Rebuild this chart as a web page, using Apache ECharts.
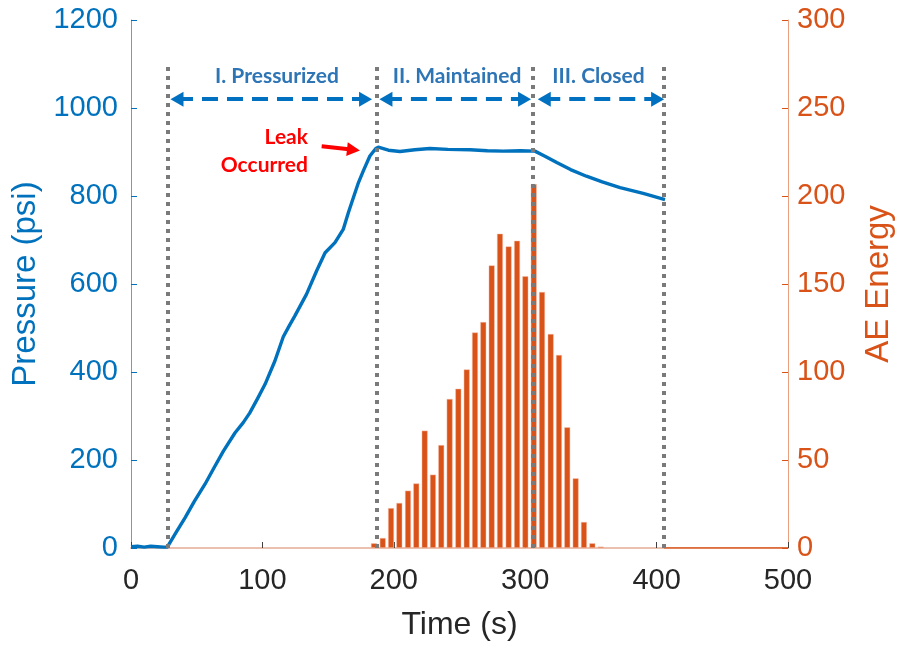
<!DOCTYPE html>
<html>
<head>
<meta charset="utf-8">
<script src="https://cdn.jsdelivr.net/npm/echarts@6/dist/echarts.min.js"></script>
<style>
  html, body { margin: 0; padding: 0; background: #ffffff; }
  #chart { width: 903px; height: 645px; }
</style>
</head>
<body>
<div id="chart"></div>
<script>
// Vessel pressure record: time (s) and pressure (psi)
const pressureTime = [0, 5, 10, 15, 20, 25, 27.6, 34.2, 41.2, 48.2, 56.3, 63.3, 70.3, 79.2, 85.4, 90.4,
  96.4, 102, 109.5, 115.9, 120.6, 124.6, 133.6, 141.3, 147.7, 155.2, 161.5, 165.4, 169.2, 172.8,
  176.8, 181.8, 186.3, 188.2, 195.9, 204.7, 216, 227.5, 241.1, 258, 271.2, 283.3, 296.4, 307.4,
  315.4, 324, 334.5, 346.6, 358.6, 372.2, 389.8, 406.4];
const pressureValue = [3, 4, 2, 4, 3, 2, 2, 35, 69, 106, 145, 183, 220, 262, 285, 307,
  340, 372, 425, 480, 506, 527, 577, 630, 671, 694, 724, 762, 796, 828,
  857, 891, 908, 911, 904, 901, 905, 908, 906, 905, 903, 902, 903, 902,
  890, 876, 860, 845, 832, 819, 806, 792];

// Acoustic emission energy per time bin
const aeTime = [184.9, 191.6, 197.9, 204.2, 210.8, 217.1, 223.5, 229.8, 236.1, 242.5, 249.1, 255.5,
  261.8, 268.1, 274.5, 280.8, 287.4, 293.8, 300.1, 306.5, 312.8, 319.4, 325.7, 332.0, 338.4,
  344.7, 351.1, 357.5];
const aeEnergy = [2.7, 5.7, 22.7, 25.6, 32.6, 36.7, 66.7, 41.7, 58.5, 84.7, 90.5, 101.5,
  122.5, 128.4, 160.6, 178.6, 171.4, 174.6, 154.5, 206.8, 145.5, 121.6, 109.7, 68.6, 39.6,
  14.8, 2.7, 0.8];
// Energy stays at zero once the valve is closed
const aeTailTime = [405.6, 500];
const aeTailEnergy = [0, 0];

// Test phases
const phaseBounds = [28.2, 187.2, 305.9, 405.6];
const phaseLabels = ['I. Pressurized', 'II. Maintained', 'III. Closed'];
const phaseLabelTime = [111.1, 248.1, 355.8];
const phaseArrowStart = [35, 194, 314.5];
const phaseArrowEnd = [178.5, 299.5, 400.8];
const phaseArrowLevel = 1020;
const phaseLabelLevel = 1073;
const phaseLineTop = 1102;

// Leak annotation
const leakText = 'Leak\nOccurred';
const leakTextAt = [134.7, 902];
const leakArrowFrom = [145.1, 913];
const leakArrowTo = [169.3, 905];

// Axis ticks
const timeTicks = [0, 100, 200, 300, 400, 500];
const pressureTicks = [0, 200, 400, 600, 800, 1000, 1200];
const energyTicks = [0, 50, 100, 150, 200, 250, 300];

const BLUE = '#0072BD';
const ORANGE = '#D95319';
const FONT = 'Liberation Sans, Arial, sans-serif';
const NOTE_FONT = 'Lato, Open Sans, sans-serif';
const plain = v => String(v);

const pressureData = pressureTime.map((t, i) => [t, pressureValue[i]]);
const aeData = aeTime.map((t, i) => [t, aeEnergy[i]]);
const aeTailData = aeTailTime.map((t, i) => [t, aeTailEnergy[i]]);

const dottedLines = phaseBounds.map(t => [{ coord: [t, 0] }, { coord: [t, phaseLineTop] }]);
const phaseArrows = phaseArrowStart.map((t, i) => [
  { coord: [t, phaseArrowLevel] },
  { coord: [phaseArrowEnd[i], phaseArrowLevel] }
]);
const phaseTexts = phaseLabels.map((s, i) => ({
  name: s,
  coord: [phaseLabelTime[i], phaseLabelLevel]
}));

const chart = echarts.init(document.getElementById('chart'), null, { renderer: 'canvas' });

chart.setOption({
  backgroundColor: '#ffffff',
  animation: false,
  grid: { left: 131, right: 115, top: 20, bottom: 97, containLabel: false, outerBoundsMode: 'none' },
  xAxis: {
    type: 'value',
    min: timeTicks[0],
    max: timeTicks[timeTicks.length - 1],
    interval: timeTicks[1] - timeTicks[0],
    name: 'Time (s)',
    nameLocation: 'middle',
    nameGap: 61,
    nameTextStyle: { fontFamily: FONT, fontSize: 32, color: '#262626' },
    axisLine: { show: true, onZero: false, lineStyle: { color: '#EBC0AE', width: 2 } },
    axisTick: { show: true, inside: true, length: 6, lineStyle: { color: '#404040', width: 1 } },
    axisLabel: { fontFamily: FONT, fontSize: 29, color: '#262626', margin: 18, formatter: plain },
    splitLine: { show: false }
  },
  yAxis: [
    {
      type: 'value',
      position: 'left',
      min: pressureTicks[0],
      max: pressureTicks[pressureTicks.length - 1],
      interval: pressureTicks[1] - pressureTicks[0],
      name: 'Pressure (psi)',
      nameLocation: 'middle',
      nameRotate: 90,
      nameGap: 62,
      nameTextStyle: { fontFamily: FONT, fontSize: 33, color: BLUE },
      axisLine: { show: true, lineStyle: { color: '#5AA3D6', width: 1 } },
      axisTick: { show: true, inside: true, length: 6, lineStyle: { color: BLUE, width: 1 } },
      axisLabel: { fontFamily: FONT, fontSize: 29, color: BLUE, margin: 13, formatter: plain },
      splitLine: { show: false }
    },
    {
      type: 'value',
      position: 'right',
      min: energyTicks[0],
      max: energyTicks[energyTicks.length - 1],
      interval: energyTicks[1] - energyTicks[0],
      name: 'AE Energy',
      nameLocation: 'middle',
      nameRotate: 90,
      nameGap: 74,
      nameTextStyle: { fontFamily: FONT, fontSize: 33, color: ORANGE },
      axisLine: { show: true, lineStyle: { color: '#EAA07F', width: 1 } },
      axisTick: { show: true, inside: true, length: 6, lineStyle: { color: ORANGE, width: 1 } },
      axisLabel: { fontFamily: FONT, fontSize: 29, color: ORANGE, margin: 9, formatter: plain },
      splitLine: { show: false }
    }
  ],
  series: [
    {
      name: 'AE Energy',
      type: 'bar',
      yAxisIndex: 1,
      data: aeData,
      barWidth: 6,
      itemStyle: { color: ORANGE, borderColor: 'rgba(244,190,170,0.8)', borderWidth: 0.6 },
      z: 2
    },
    {
      name: 'AE Energy (closed)',
      type: 'line',
      yAxisIndex: 1,
      data: aeTailData,
      symbol: 'none',
      lineStyle: { color: ORANGE, width: 1.6 },
      z: 3
    },
    {
      name: 'Pressure',
      type: 'line',
      yAxisIndex: 0,
      data: pressureData,
      symbol: 'none',
      smooth: false,
      lineStyle: { color: BLUE, width: 3.4, join: 'round' },
      z: 4,
      markLine: {
        silent: true,
        symbol: 'none',
        label: { show: false },
        animation: false,
        data: dottedLines,
        lineStyle: { color: '#7A7A7A', width: 4, type: [4, 5] }
      }
    },
    {
      name: 'Phase arrows',
      type: 'line',
      yAxisIndex: 0,
      data: [],
      z: 5,
      markLine: {
        silent: true,
        symbol: ['triangle', 'triangle'],
        symbolSize: [15, 13],
        label: { show: false },
        animation: false,
        data: phaseArrows,
        lineStyle: { color: '#0070C0', width: 4, type: [16, 9] }
      },
      markPoint: {
        silent: true,
        symbol: 'circle',
        symbolSize: 1,
        itemStyle: { color: 'rgba(0,0,0,0)' },
        animation: false,
        label: {
          show: true,
          position: 'inside',
          formatter: '{b}',
          fontFamily: NOTE_FONT,
          fontWeight: 'bold',
          fontSize: 21,
          color: '#2E75B6'
        },
        data: phaseTexts
      }
    },
    {
      name: 'Leak note',
      type: 'line',
      yAxisIndex: 0,
      data: [],
      z: 5,
      markLine: {
        silent: true,
        symbol: ['none', 'triangle'],
        symbolSize: [14, 13],
        label: { show: false },
        animation: false,
        data: [[{ coord: leakArrowFrom }, { coord: leakArrowTo }]],
        lineStyle: { color: '#FF0000', width: 4, type: 'solid' }
      },
      markPoint: {
        silent: true,
        symbol: 'circle',
        symbolSize: 1,
        itemStyle: { color: 'rgba(0,0,0,0)' },
        animation: false,
        label: {
          show: true,
          position: 'inside',
          align: 'right',
          verticalAlign: 'middle',
          formatter: leakText,
          lineHeight: 28,
          fontFamily: NOTE_FONT,
          fontWeight: 'bold',
          fontSize: 21,
          color: '#FF0000'
        },
        data: [{ name: 'leak', coord: leakTextAt }]
      }
    }
  ]
});
</script>
</body>
</html>
